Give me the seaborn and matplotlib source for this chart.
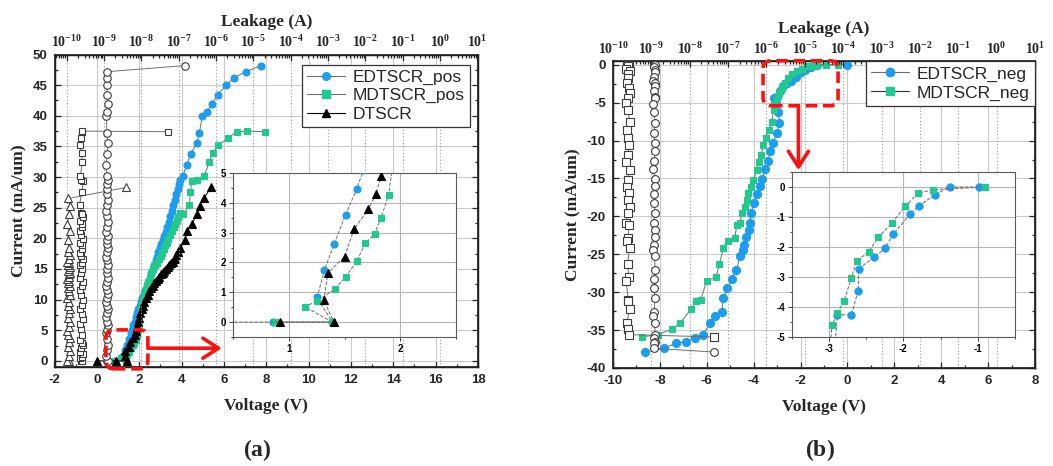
import numpy as np
import matplotlib
matplotlib.use("Agg")
import matplotlib.pyplot as plt
from matplotlib.lines import Line2D
from matplotlib.patches import FancyBboxPatch
from matplotlib.ticker import MultipleLocator, LogLocator, NullFormatter
import seaborn as sns

# ---------------------------------------------------------------- data ----
# (a) positive stress: voltage (V), current (mA/um), leakage (A)
v_edt_pos = [0.86, 1.39, 1.255, 1.32, 1.405, 1.51, 1.61, 1.67, 1.73, 1.79,
             1.85, 1.91, 1.96, 2.02, 2.08, 2.14, 2.21, 2.28, 2.35, 2.42,
             2.49, 2.56, 2.63, 2.70, 2.77, 2.84, 2.91, 2.98, 3.05, 3.12,
             3.19, 3.26, 3.33, 3.40, 3.47, 3.54, 3.61, 3.68, 3.75, 3.82,
             3.88, 3.94, 4.06, 4.25, 4.43, 4.72, 4.84, 4.98, 5.18, 5.44,
             5.70, 6.12, 6.48, 7.03, 7.77]
i_edt_pos = [0, 0, 0.83, 1.74, 2.61, 3.60, 4.47, 5.1, 5.8, 6.4,
             7.1, 7.8, 8.4, 9.0, 9.6, 10.2, 10.9, 11.6, 12.3, 12.9,
             13.6, 14.3, 15.0, 15.7, 16.4, 17.0, 17.7, 18.4, 19.0, 19.7,
             20.4, 21.0, 21.8, 22.7, 23.6, 24.5, 25.4, 26.3, 27.2, 28.1,
             28.9, 29.6, 30.2, 32.0, 33.8, 35.5, 37.2, 40.0, 40.6, 41.9,
             43.4, 45.0, 46.2, 47.2, 48.2]
leak_edt_pos = [1.20e-9, 1.26e-9, 1.14e-9, 1.22e-9, 1.27e-9, 1.18e-9, 1.13e-9, 1.21e-9, 1.25e-9, 1.17e-9,
                1.12e-9, 1.22e-9, 1.28e-9, 1.19e-9, 1.15e-9, 1.23e-9, 1.26e-9, 1.18e-9, 1.14e-9, 1.21e-9,
                1.24e-9, 1.16e-9, 1.20e-9, 1.27e-9, 1.19e-9, 1.13e-9, 1.22e-9, 1.25e-9, 1.17e-9, 1.20e-9,
                1.26e-9, 1.15e-9, 1.21e-9, 1.24e-9, 1.18e-9, 1.14e-9, 1.23e-9, 1.27e-9, 1.19e-9, 1.16e-9,
                1.22e-9, 1.25e-9, 1.18e-9, 1.13e-9, 1.21e-9, 1.26e-9, 1.19e-9, 1.15e-9, 1.22e-9, 1.24e-9,
                1.18e-9, 1.21e-9, 1.16e-9, 1.23e-9, 1.5e-7]

v_md_pos = [0.88, 1.39, 1.144, 1.255, 1.414, 1.51, 1.61, 1.685, 1.77, 1.826,
            1.895, 1.93, 1.97, 2.01, 2.05, 2.10, 2.15, 2.20, 2.26, 2.31,
            2.36, 2.43, 2.50, 2.58, 2.66, 2.75, 2.83, 2.92, 3.01, 3.10,
            3.18, 3.24, 3.30, 3.38, 3.46, 3.54, 3.62, 3.69, 3.77, 3.85,
            3.93, 4.09, 4.37, 4.42, 4.48, 4.72, 5.06, 5.31, 5.47, 5.74,
            6.21, 6.60, 7.08, 7.93]
i_md_pos = [0, 0, 0.52, 0.70, 1.11, 1.52, 2.04, 2.64, 2.96, 3.48,
            4.26, 5.2, 6.0, 6.8, 7.6, 8.4, 9.2, 10.0, 10.8, 11.5,
            12.2, 12.9, 13.6, 14.3, 15.0, 15.6, 16.0, 16.6, 17.1, 17.6,
            18.3, 18.9, 19.3, 19.9, 20.6, 21.2, 21.8, 22.3, 22.9, 23.5,
            24.2, 23.9, 25.5, 27.5, 29.4, 29.6, 30.1, 32.4, 34.0, 35.2,
            36.4, 37.4, 37.5, 37.4]
leak_md_pos = [2.4e-10, 2.6e-10, 2.2e-10, 2.5e-10, 2.7e-10, 2.3e-10, 2.4e-10, 2.8e-10, 2.5e-10, 2.2e-10,
               2.6e-10, 2.4e-10, 2.3e-10, 2.7e-10, 2.5e-10, 2.2e-10, 2.6e-10, 2.8e-10, 2.4e-10, 2.3e-10,
               2.5e-10, 2.7e-10, 2.2e-10, 2.4e-10, 2.6e-10, 2.3e-10, 2.5e-10, 2.8e-10, 2.4e-10, 2.2e-10,
               2.6e-10, 2.5e-10, 2.3e-10, 2.7e-10, 2.4e-10, 2.2e-10, 2.6e-10, 2.5e-10, 2.3e-10, 2.7e-10,
               2.4e-10, 2.6e-10, 2.2e-10, 2.5e-10, 2.8e-10, 2.4e-10, 2.3e-10, 2.6e-10, 2.5e-10, 2.2e-10,
               2.4e-10, 2.6e-10, 2.5e-10, 5.1e-8]

v_dt = [0.0, 0.92, 1.405, 1.315, 1.35, 1.50, 1.585, 1.715, 1.78, 1.83,
        1.88, 1.93, 1.98, 2.04, 2.11, 2.18, 2.25, 2.32, 2.40, 2.47,
        2.55, 2.63, 2.71, 2.79, 2.87, 2.95, 3.03, 3.11, 3.19, 3.27,
        3.35, 3.43, 3.51, 3.59, 3.67, 3.75, 3.83, 3.93, 4.17, 4.25,
        4.48, 4.72, 4.87, 5.06, 5.38]
i_dt = [0, 0, 0, 0.73, 1.64, 2.19, 3.11, 3.79, 4.28, 4.9,
        5.6, 6.3, 7.0, 7.8, 8.4, 9.0, 9.6, 10.2, 10.8, 11.4,
        11.9, 12.3, 12.7, 13.0, 13.4, 13.7, 14.1, 14.4, 14.7, 15.0,
        15.3, 15.6, 15.9, 16.2, 16.7, 17.2, 17.8, 18.4, 19.8, 21.2,
        22.3, 23.9, 25.3, 26.5, 28.3]
leak_dt = [1.10e-10, 1.18e-10, 1.02e-10, 1.12e-10, 1.22e-10, 1.06e-10, 1.15e-10, 1.24e-10, 1.08e-10, 1.01e-10,
           1.14e-10, 1.20e-10, 1.05e-10, 1.11e-10, 1.23e-10, 1.07e-10, 1.16e-10, 1.03e-10, 1.19e-10, 1.12e-10,
           1.06e-10, 1.21e-10, 1.09e-10, 1.14e-10, 1.02e-10, 1.18e-10, 1.11e-10, 1.24e-10, 1.05e-10, 1.13e-10,
           1.20e-10, 1.08e-10, 1.16e-10, 1.03e-10, 1.12e-10, 1.22e-10, 1.07e-10, 1.15e-10, 1.10e-10, 1.19e-10,
           1.04e-10, 1.13e-10, 1.21e-10, 1.09e-10, 3.9e-9]

# (a) inset window
inset_a_xlim = (0.5, 2.5)
inset_a_ylim = (-0.5, 5)

# (b) negative stress
v_edt_neg = [0.0, -1.30, -1.55, -1.80, -1.98, -2.20, -2.40, -2.58, -2.75, -2.88,
             -3.00, -3.12, -3.05, -2.95, -2.90, -3.00, -3.18, -3.29, -3.40, -3.50,
             -3.64, -3.74, -3.86, -4.00, -4.10, -4.17, -4.22, -4.32, -4.43, -4.46,
             -4.57, -4.74, -4.93, -5.12, -5.29, -5.36, -5.64, -5.85, -6.17, -6.50,
             -6.90, -7.31, -7.81, -8.63]
i_edt_neg = [0, 0, -0.3, -0.7, -1.0, -1.6, -2.1, -2.4, -2.8, -3.5,
             -4.2, -4.4, -5.2, -6.2, -7.7, -9.0, -10.3, -11.4, -12.7, -13.8,
             -15.1, -16.0, -17.1, -18.2, -19.5, -20.9, -21.8, -22.7, -23.8, -24.4,
             -25.2, -27.1, -28.2, -29.4, -30.7, -32.6, -33.1, -34.1, -35.6, -36.0,
             -36.6, -36.7, -37.4, -37.9]
leak_edt_neg = [1.20e-9, 1.26e-9, 1.14e-9, 1.22e-9, 1.28e-9, 1.17e-9, 1.12e-9, 1.23e-9, 1.25e-9, 1.16e-9,
                1.21e-9, 1.27e-9, 1.13e-9, 1.19e-9, 1.24e-9, 1.15e-9, 1.22e-9, 1.28e-9, 1.18e-9, 1.12e-9,
                1.23e-9, 1.26e-9, 1.16e-9, 1.20e-9, 1.25e-9, 1.14e-9, 1.21e-9, 1.27e-9, 1.17e-9, 1.13e-9,
                1.22e-9, 1.25e-9, 1.18e-9, 1.15e-9, 1.24e-9, 1.19e-9, 1.12e-9, 1.21e-9, 1.26e-9, 1.17e-9,
                1.23e-9, 1.14e-9, 1.20e-9, 4.4e-8]

v_md_neg = [-0.39, -0.92, -1.31, -1.55, -1.74, -1.95, -2.16, -2.35, -2.52, -2.65,
            -2.80, -2.92, -3.02, -3.12, -3.15, -3.23, -3.35, -3.48, -3.59, -3.68,
            -3.76, -3.87, -4.01, -4.12, -4.23, -4.30, -4.37, -4.51, -4.58, -4.72,
            -4.80, -5.08, -5.29, -5.46, -5.61, -6.00, -6.26, -6.46, -6.67, -7.14,
            -7.50, -8.07, -8.78]
i_md_neg = [0, 0, 0, -0.1, -0.22, -0.5, -0.79, -1.2, -1.76, -2.4,
            -3.1, -3.7, -4.4, -5.0, -6.0, -7.5, -8.6, -9.6, -10.6, -11.9,
            -12.8, -13.9, -15.2, -16.1, -16.9, -17.8, -18.7, -19.6, -20.9, -21.1,
            -22.8, -23.2, -24.2, -26.3, -28.0, -28.5, -31.0, -31.1, -32.2, -34.1,
            -34.9, -35.6, -35.9]
leak_md_neg = [2.6e-10, 2.4e-10, 2.3e-10, 2.6e-10, 2.5e-10, 2.2e-10, 2.7e-10, 2.4e-10, 2.5e-10, 2.3e-10,
               2.6e-10, 2.8e-10, 2.4e-10, 2.2e-10, 2.5e-10, 2.7e-10, 2.3e-10, 2.4e-10, 2.6e-10, 2.5e-10,
               2.2e-10, 2.7e-10, 2.4e-10, 2.3e-10, 2.6e-10, 2.5e-10, 2.8e-10, 2.4e-10, 2.2e-10, 2.6e-10,
               2.5e-10, 2.3e-10, 2.7e-10, 2.4e-10, 2.6e-10, 2.2e-10, 2.5e-10, 2.4e-10, 2.7e-10, 2.3e-10,
               2.5e-10, 2.6e-10, 4.2e-8]

# (b) inset: finer sweep of the turn-on region
inset_v_edt_neg = [-0.99, -1.38, -1.58, -1.79, -1.91, -2.14, -2.25, -2.40, -2.60, -2.61, -2.70, -2.89, -2.93]
inset_i_edt_neg = [0, 0, -0.26, -0.63, -0.90, -1.58, -2.05, -2.35, -2.72, -3.45, -4.26, -4.26, -5.6]
inset_v_md_neg = [-0.91, -1.60, -1.81, -1.98, -2.15, -2.34, -2.47, -2.63, -2.70, -2.80, -2.89, -2.96, -3.00]
inset_i_md_neg = [0, -0.09, -0.21, -0.65, -1.19, -1.68, -2.16, -2.47, -3.02, -3.79, -4.21, -4.59, -5.6]
inset_b_xlim = (-3.5, -0.5)
inset_b_ylim = (-5, 0.5)

decades = list(range(-10, 2))
decade_labels = [rf"$\mathbf{{10^{{{e}}}}}$" for e in decades]

# --------------------------------------------------------------- style ----
sns.set_theme(style="ticks")
plt.rcParams["font.family"] = ["Liberation Sans", "DejaVu Sans"]
plt.rcParams["font.weight"] = "bold"
plt.rcParams["axes.unicode_minus"] = False
plt.rcParams["mathtext.fontset"] = "custom"
plt.rcParams["mathtext.rm"] = "Liberation Serif"
plt.rcParams["mathtext.bf"] = "Liberation Serif:bold"
plt.rcParams["mathtext.it"] = "Liberation Serif:italic"

BLUE = "#1b9df2"
GREEN = "#1fca8c"
LINE = "#6e6e6e"
OPEN_EDGE = "#3c3c3c"
GRID = "#cacaca"
RED = "#ff1010"
SERIF = dict(family="Liberation Serif", weight="bold", size=12.5)

W, H = 1053, 466


def box(x0, y0, x1, y1):
    return [x0 / W, 1 - y1 / H, (x1 - x0) / W, (y1 - y0) / H]


def trace(ax, x, y, marker, ms, face, edge, line_color, ls="-", lw=0.7, z=3):
    sns.lineplot(x=x, y=y, ax=ax, sort=False, estimator=None, legend=False,
                 color=line_color, linestyle=ls, linewidth=lw,
                 marker=marker, markersize=ms, markerfacecolor=face,
                 markeredgecolor=edge, markeredgewidth=0.8, zorder=z)


def style_main(ax, xmaj, ymaj, ymin):
    ax.xaxis.set_major_locator(MultipleLocator(xmaj))
    ax.xaxis.set_minor_locator(MultipleLocator(xmaj / 2))
    ax.yaxis.set_major_locator(MultipleLocator(ymaj))
    ax.yaxis.set_minor_locator(MultipleLocator(ymin))
    ax.tick_params(which="both", direction="in", left=True, right=True,
                   bottom=True, top=False, labelsize=9.5, width=0.9, pad=5)
    ax.tick_params(which="major", length=4)
    ax.tick_params(which="minor", length=2)
    ax.grid(True, which="major", color=GRID, linewidth=0.8)
    ax.set_axisbelow(True)
    for s in ax.spines.values():
        s.set_color("black")
        s.set_linewidth(1.0)
    ax.set_xlabel("Voltage (V)", fontdict=SERIF, labelpad=9)
    ax.set_ylabel("Current (mA/um)", fontdict=SERIF, labelpad=4)


def style_top(tx, lim):
    tx.set_xscale("log")
    tx.set_xlim(*lim)
    tx.set_xticks([10.0 ** e for e in decades], labels=decade_labels)
    tx.xaxis.set_minor_locator(LogLocator(base=10, subs=np.arange(2, 10), numticks=200))
    tx.xaxis.set_minor_formatter(NullFormatter())
    tx.tick_params(axis="x", which="both", direction="in", top=True, bottom=False,
                   labelsize=10, pad=3, width=0.9)
    tx.tick_params(axis="x", which="major", length=4)
    tx.tick_params(axis="x", which="minor", length=2)
    tx.grid(True, which="major", axis="x", color="#9a9a9a", linestyle=(0, (1, 2)), linewidth=0.8)
    tx.set_xlabel("Leakage (A)", fontdict=SERIF, labelpad=6)


def style_inset(ax, xlim, ylim):
    ax.set_xlim(*xlim)
    ax.set_ylim(*ylim)
    ax.xaxis.set_major_locator(MultipleLocator(1))
    ax.yaxis.set_major_locator(MultipleLocator(1))
    ax.xaxis.set_minor_locator(MultipleLocator(0.5))
    ax.yaxis.set_minor_locator(MultipleLocator(0.5))
    ax.tick_params(which="both", direction="out", labelsize=7, pad=2, width=0.7,
                   colors="#444444", labelcolor="black")
    ax.tick_params(which="major", length=3)
    ax.tick_params(which="minor", length=1.5)
    ax.grid(True, which="major", color="#b5b5b5", linewidth=0.8)
    ax.set_axisbelow(True)
    ax.set_facecolor("white")
    for s in ax.spines.values():
        s.set_color("#5a5a5a")
        s.set_linewidth(0.8)
    ax.set_xlabel("")
    ax.set_ylabel("")


def legend_handle(marker, face, line_color, ms):
    return Line2D([], [], color=line_color, linewidth=0.8, marker=marker,
                  markersize=ms, markerfacecolor=face, markeredgecolor=face)


def red_box(host, ref, x0, y0, x1, y1, r_px, sx, sy):
    rr = r_px / sx
    patch = FancyBboxPatch((x0, y0), x1 - x0, y1 - y0,
                           boxstyle=f"round,pad=0,rounding_size={rr}",
                           mutation_aspect=sx / sy, transform=ref.transData,
                           fill=False, edgecolor=RED, linewidth=2.6,
                           linestyle=(0, (3.2, 1.6)), clip_on=False, zorder=20)
    host.add_artist(patch)


def red_arrow(host, ref, start, end):
    host.annotate("", xy=end, xytext=start, xycoords=ref.transData,
                  textcoords=ref.transData, annotation_clip=False,
                  arrowprops=dict(arrowstyle="->,head_length=0.7,head_width=0.45",
                                  color=RED, linewidth=2.6, mutation_scale=16,
                                  shrinkA=0, shrinkB=0), zorder=20)


fig = plt.figure(figsize=(W / 100, H / 100), dpi=100)

# ------------------------------------------------------------ panel (a) ----
axA = fig.add_axes(box(54.5, 54.5, 478, 367))
trace(axA, v_edt_pos, i_edt_pos, "o", 5.0, BLUE, BLUE, LINE)
trace(axA, v_md_pos, i_md_pos, "s", 4.6, GREEN, GREEN, LINE)
trace(axA, v_dt, i_dt, "^", 5.4, "black", "black", "black")
axA.set_xlim(-2, 18)
axA.set_ylim(-1, 50)
style_main(axA, 2, 5, 2.5)

topA = axA.twiny()
topA.set_xscale("log")
trace(topA, leak_dt, i_dt, "^", 5.6, "white", OPEN_EDGE, LINE)
trace(topA, leak_md_pos, i_md_pos, "s", 5.0, "white", OPEN_EDGE, LINE)
trace(topA, leak_edt_pos, i_edt_pos, "o", 5.4, "white", OPEN_EDGE, LINE)
style_top(topA, (10 ** -10.33, 10 ** 1.02))
topA.set_ylim(-1, 50)

legA = topA.legend(
    [legend_handle("o", BLUE, LINE, 5.5), legend_handle("s", GREEN, LINE, 5.5),
     legend_handle("^", "black", "black", 5.5)],
    ["EDTSCR_pos", "MDTSCR_pos", "DTSCR"],
    loc="upper right", bbox_to_anchor=(1 - 8 / 423.5, 1 - 10 / 312.5),
    borderaxespad=0, prop=dict(family="Liberation Sans", weight="normal", size=12.5),
    frameon=True, fancybox=False, edgecolor="#333333", framealpha=1,
    handlelength=2.2, handletextpad=0.45, labelspacing=0.18, borderpad=0.3)
legA.get_frame().set_linewidth(0.9)

red_box(topA, axA, 0.43, -1.3, 2.41, 5.06, 8, 21.18, 6.13)
red_arrow(topA, axA, (2.41, 2.07), (5.9, 2.07))

insA = fig.add_axes(box(233, 173, 456, 337))
trace(insA, v_edt_pos, i_edt_pos, "o", 5.0, BLUE, BLUE, LINE, ls="--", lw=0.7)
trace(insA, v_md_pos, i_md_pos, "s", 4.6, GREEN, GREEN, LINE, ls="--", lw=0.7)
trace(insA, v_dt, i_dt, "^", 5.6, "black", "black", LINE, ls="--", lw=0.7)
style_inset(insA, inset_a_xlim, inset_a_ylim)

# ------------------------------------------------------------ panel (b) ----
axB = fig.add_axes(box(613, 61, 1035, 368))
trace(axB, v_edt_neg, i_edt_neg, "o", 5.8, BLUE, BLUE, LINE)
trace(axB, v_md_neg, i_md_neg, "s", 5.0, GREEN, GREEN, LINE)
axB.set_xlim(-10, 8)
axB.set_ylim(-40, 0.5)
style_main(axB, 2, 5, 2.5)

topB = axB.twiny()
topB.set_xscale("log")
trace(topB, leak_md_neg, i_md_neg, "s", 5.2, "white", OPEN_EDGE, LINE)
trace(topB, leak_edt_neg, i_edt_neg, "o", 5.6, "white", OPEN_EDGE, LINE)
style_top(topB, (1e-10, 1e1))
topB.set_ylim(-40, 0.5)

legB = topB.legend(
    [legend_handle("o", BLUE, LINE, 6), legend_handle("s", GREEN, "#333333", 6)],
    ["EDTSCR_neg", "MDTSCR_neg"],
    loc="upper right", bbox_to_anchor=(1.0, 1.0), borderaxespad=0,
    prop=dict(family="Liberation Sans", weight="normal", size=12.5),
    frameon=True, fancybox=False, edgecolor="#333333", framealpha=1,
    handlelength=2.2, handletextpad=0.45, labelspacing=0.22, borderpad=0.3)
legB.get_frame().set_linewidth(0.9)

red_box(topB, axB, -3.6, -5.4, -0.4, 0.53, 8, 23.44, 7.575)
red_arrow(topB, axB, (-2.09, -5.4), (-2.09, -13.9))

insB = fig.add_axes(box(792, 172, 1015, 337))
trace(insB, inset_v_edt_neg, inset_i_edt_neg, "o", 5.2, BLUE, BLUE, LINE, ls="--", lw=0.7)
trace(insB, inset_v_md_neg, inset_i_md_neg, "s", 4.6, GREEN, GREEN, LINE, ls="--", lw=0.7)
style_inset(insB, inset_b_xlim, inset_b_ylim)

# ------------------------------------------------------------ captions ----
fig.text(257 / W, 1 - 450 / H, r"$(\mathbf{a})$", ha="center", va="center", fontsize=17)
fig.text(820 / W, 1 - 450 / H, r"$(\mathbf{b})$", ha="center", va="center", fontsize=17)

fig.savefig("out.png", dpi=100, facecolor="white")
